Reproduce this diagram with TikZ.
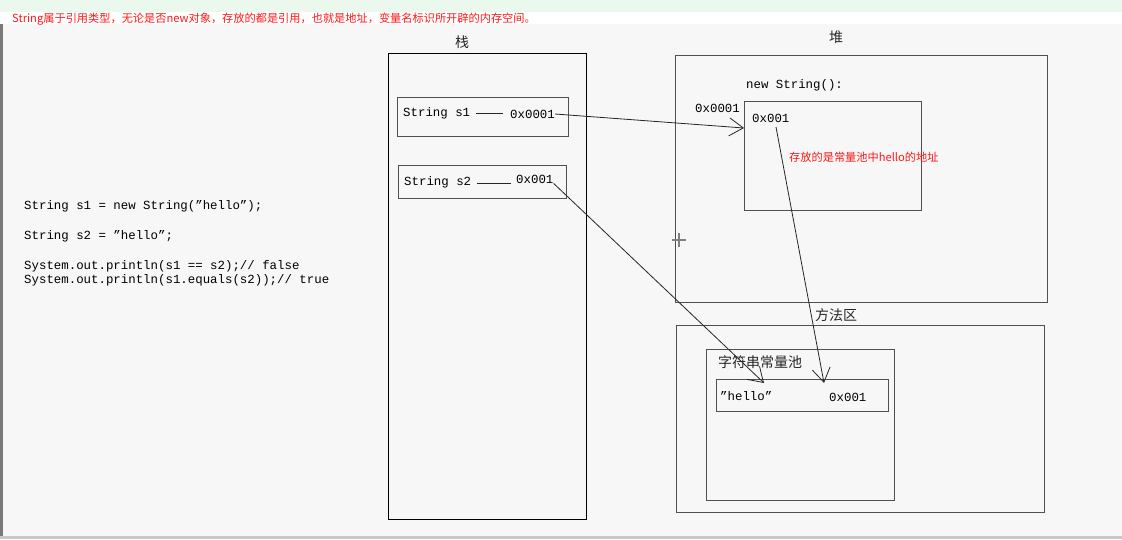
\documentclass[tikz,border=0pt]{standalone}
\usepackage{fontspec}
\setmainfont{Liberation Mono}
\newfontfamily\cjk{Noto Sans CJK SC}
\newfontfamily\codefont{Liberation Mono}
\usetikzlibrary{arrows.meta}
\definecolor{bandgreen}{HTML}{EBF8EE}
\definecolor{panel}{HTML}{F7F7F7}
\definecolor{edgebar}{HTML}{7A7A7A}
\definecolor{bottomline}{HTML}{C8C8C8}
\definecolor{boxline}{HTML}{505050}
\definecolor{notered}{HTML}{FF1A1A}
\tikzset{
  panelbox/.style={draw=#1, line width=1pt, fill=none, rectangle, inner sep=0pt, anchor=north west},
  code/.style={font=\codefont\fontsize{12.4}{14}\selectfont, anchor=west, inner sep=0pt, text=black},
  cjklabel/.style={font=\cjk\fontsize{14}{16}\selectfont, inner sep=0pt, text=black!85},
  note/.style={font=\cjk\fontsize{#1}{14}\selectfont, anchor=west, inner sep=0pt, text=notered},
  ptr/.style={line width=0.8pt, draw=black!85, -{Straight Barb[length=14pt,width=18pt,line width=0.8pt]}},
  dashline/.style={line width=0.8pt, draw=black!85}
}
\begin{document}
\begin{tikzpicture}[x=1pt,y=-1pt]
\useasboundingbox (0,0) rectangle (1122,539);
% background bands
\fill[bandgreen] (0,0) rectangle (1122,12);
\fill[white] (0,12) rectangle (1122,24);
\fill[panel] (0,24) rectangle (1122,536);
\fill[edgebar] (0,24) rectangle (2.5,536);
\fill[bottomline] (0,536) rectangle (1122,539);

% top note
\node[note=11.2] (topnote) at (12,19) {String属于引用类型，无论是否new对象，存放的都是引用，也就是地址，变量名标识所开辟的内存空间。};

% code on the left
\node[code] (c1) at (24,206) {String s1 = new String(”hello”);};
\node[code] (c2) at (24,236) {String s2 = ”hello”;};
\node[code] (c3) at (24,266) {System.out.println(s1 == s2);// false};
\node[code] (c4) at (24,280) {System.out.println(s1.equals(s2));// true};

% stack
\node[cjklabel] (stacklabel) at (462,42) {栈};
\node[panelbox=black, minimum width=198pt, minimum height=466pt] (stack) at (388,53) {};
\node[panelbox=boxline, minimum width=171pt, minimum height=39pt] (s1box) at (397,97) {};
\node[code] (s1name) at (403,113) {String s1};
\node[code] (s1addr) at (510,114) {0x0001};
\draw[dashline] (476,113) -- (503,113);
\node[panelbox=boxline, minimum width=168pt, minimum height=33pt] (s2box) at (398,165) {};
\node[code] (s2name) at (404,182) {String s2};
\node[code] (s2addr) at (516,179) {0x001};
\draw[dashline] (477,183) -- (511,183);

% heap
\node[cjklabel] (heaplabel) at (836,37) {堆};
\node[panelbox=boxline, minimum width=372pt, minimum height=247pt] (heap) at (675,55) {};
\node[code] (newstr) at (746,85) {new String():};
\node[code] (objaddr) at (695,108) {0x0001};
\node[panelbox=boxline, minimum width=177pt, minimum height=109pt] (obj) at (744,101) {};
\node[code] (objval) at (752,118) {0x001};
\node[note=11.2] (objnote) at (789,157) {存放的是常量池中hello的地址};

% cursor mark
\draw[gray, line width=1.5pt] (672,240) -- (686,240);
\draw[gray, line width=1.5pt] (679,233) -- (679,247);

% method area
\node[cjklabel] (methodlabel) at (836,315) {方法区};
\node[panelbox=boxline, minimum width=368pt, minimum height=187pt] (method) at (676,325) {};
\node[panelbox=boxline, minimum width=188pt, minimum height=151pt] (pool) at (706,349) {};
\node[cjklabel, anchor=west] (poollabel) at (718,362) {字符串常量池};
\node[panelbox=boxline, minimum width=172pt, minimum height=32pt] (hellobox) at (716,379) {};
\node[code] (helloval) at (720,396) {”hello”};
\node[code] (helloaddr) at (829,397) {0x001};

% pointers
\coordinate (objin) at (744,128);
\coordinate (helloin) at (764,383);
\coordinate (addrin) at (824,383);
\coordinate (objvalout) at (776,127);
\draw[ptr] (s1addr.east) -- (objin);
\draw[ptr] (s2addr.south east) -- (helloin);
\draw[ptr] (objvalout) -- (addrin);
\end{tikzpicture}
\end{document}
